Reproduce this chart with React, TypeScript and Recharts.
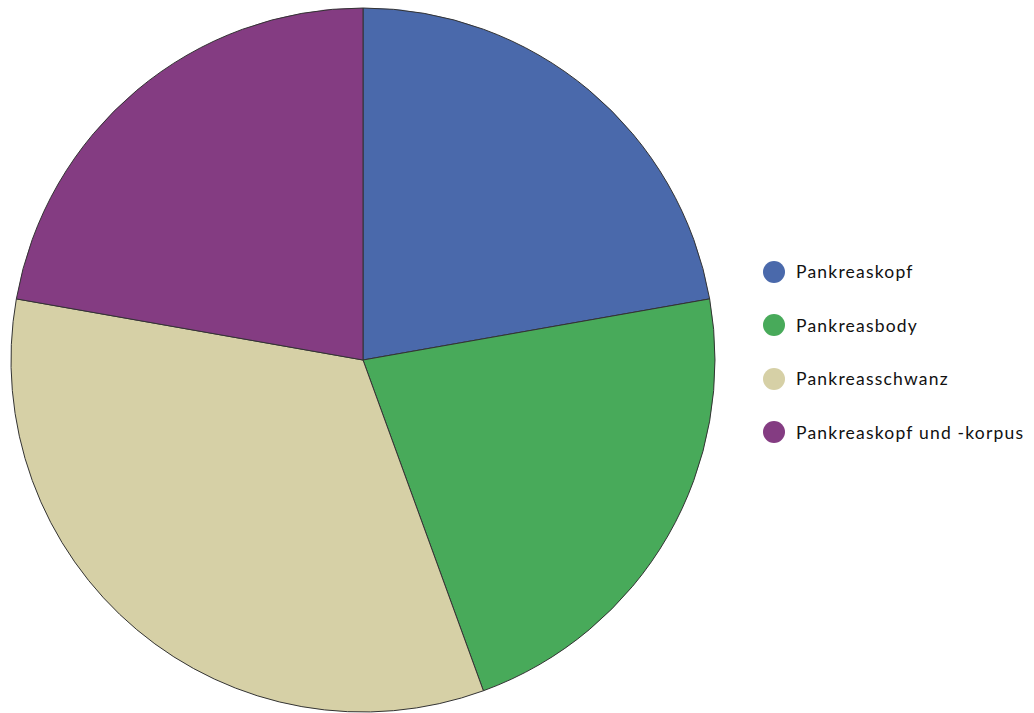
import React from "react";
import { PieChart, Pie, Cell, Legend } from "recharts";

const categories = ["Pankreaskopf", "Pankreasbody", "Pankreasschwanz", "Pankreaskopf und -korpus"];
const values = [2, 2, 3, 2];
const colors = ["#4A69AB", "#48AA5A", "#D6D0A6", "#843C82"];

const data = categories.map((name, i) => ({ name, value: values[i] }));

const renderLegend = () => (
  <div style={{ fontFamily: "Lato, 'DejaVu Sans', sans-serif", fontSize: 17.5, color: "#111" }}>
    {categories.map((c, i) => (
      <div key={c} style={{ display: "flex", alignItems: "center", height: 53.5 }}>
        <span
          style={{
            display: "inline-block",
            width: 22,
            height: 22,
            borderRadius: "50%",
            background: colors[i],
            marginRight: 11,
            flexShrink: 0,
          }}
        />
        <span style={{ letterSpacing: 1.2, whiteSpace: "nowrap" }}>{c}</span>
      </div>
    ))}
  </div>
);

export default function App() {
  return (
    <div style={{ position: "absolute", left: 0, top: 0, width: 1034, height: 713, background: "#fff" }}>
      <PieChart width={1034} height={713}>
        <Pie
          data={data}
          dataKey="value"
          nameKey="name"
          cx={358}
          cy={355}
          outerRadius={352}
          startAngle={90}
          endAngle={-270}
          stroke="#333"
          strokeWidth={1}
          isAnimationActive={false}
        >
          {data.map((d, i) => (
            <Cell key={d.name} fill={colors[i]} />
          ))}
        </Pie>
        <Legend
          layout="vertical"
          align="right"
          verticalAlign="top"
          content={renderLegend}
          wrapperStyle={{ left: 763, top: 245, width: 270 }}
        />
      </PieChart>
    </div>
  );
}
